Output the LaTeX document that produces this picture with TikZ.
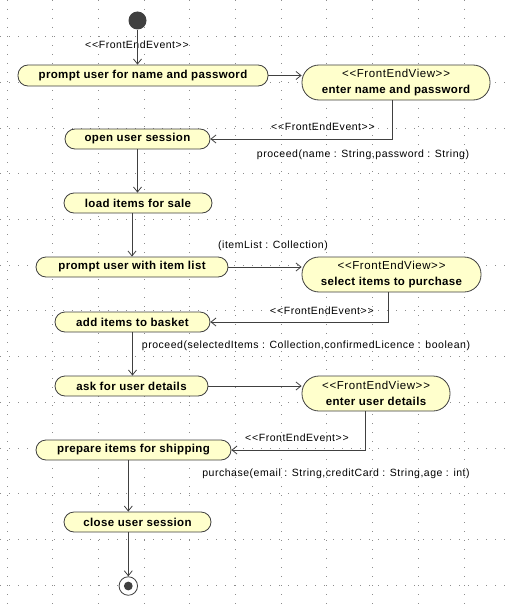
\documentclass[tikz,border=0pt]{standalone}
\usepackage{fontspec}
\setmainfont{Liberation Sans}
\newfontfamily\lblfont[LetterSpace=5]{Liberation Sans}
\newfontfamily\actfont[LetterSpace=3]{Liberation Sans}
\usetikzlibrary{arrows.meta}
\definecolor{fillc}{HTML}{FFFFCC}
\definecolor{linec}{HTML}{404040}
\definecolor{gridc}{HTML}{8C8C8C}
\newcommand\stLt{<\kern0.8pt<}
\newcommand\stGt{>\kern0.8pt>}
\begin{document}
\begin{tikzpicture}[x=1pt,y=-1pt,
  act/.style={draw=linec, fill=fillc, rounded corners=10pt, inner sep=0pt, line width=0.8pt,
    font=\actfont\bfseries\fontsize{11.5}{13}\selectfont, align=center},
  view/.style={act, rounded corners=17pt, font=\lblfont\fontsize{11.5}{16}\selectfont},
  lbl/.style={inner sep=0pt, font=\lblfont\fontsize{10.5}{12}\selectfont},
  arr/.style={draw=linec, line width=0.8pt, -{Straight Barb[length=5pt,width=8pt]}},
  griddots/.style={gridc, line width=1pt, dash pattern=on 1pt off 8pt}
]
\useasboundingbox (0,0) rectangle (509,610);
\fill[white] (0,0) rectangle (509,610);
% grid
\foreach \i in {0,...,10} \draw[griddots] ({7+45.7*\i},0) -- ({7+45.7*\i},610);
\foreach \j in {0,...,12} \draw[griddots] (0,{36.7+45.7*\j}) -- (509,{36.7+45.7*\j});

% nodes
\node[circle, fill=linec, minimum size=18pt, inner sep=0pt] (init) at (137.5,20.5) {};
\node[act, minimum width=250pt, minimum height=21pt] (n1) at (143,75.5) {prompt user for name and password};
\node[view, minimum width=188pt, minimum height=35pt] (n2) at (396,82.5) {\stLt FrontEndView\stGt\\{\actfont\bfseries enter name and password}};
\node[act, minimum width=145pt, minimum height=20pt] (n3) at (137.5,139) {open user session};
\node[act, minimum width=148pt, minimum height=20pt] (n4) at (138,203) {load items for sale};
\node[act, minimum width=192pt, minimum height=20pt] (n5) at (132,267) {prompt user with item list};
\node[view, minimum width=179pt, minimum height=35pt] (n6) at (391.5,274.5) {\stLt FrontEndView\stGt\\{\actfont\bfseries select items to purchase}};
\node[act, minimum width=155pt, minimum height=20pt] (n7) at (132.5,322) {add items to basket};
\node[act, minimum width=153pt, minimum height=20pt] (n8) at (131.5,386) {ask for user details};
\node[view, minimum width=148pt, minimum height=35pt] (n9) at (376,393.5) {\stLt FrontEndView\stGt\\{\actfont\bfseries enter user details}};
\node[act, minimum width=195pt, minimum height=20pt] (n10) at (133.5,450) {prepare items for shipping};
\node[act, minimum width=147pt, minimum height=20pt] (n11) at (137.5,522) {close user session};
\node[circle, draw=linec, fill=white, line width=0.8pt, minimum size=18.5pt, inner sep=0pt] (final) at (128.3,586) {};
\fill[linec] (final.center) circle (4.4pt);

% labels
\node[lbl] (l0) at (137,45) {\stLt FrontEndEvent\stGt};
\node[lbl] (l1) at (323,127) {\stLt FrontEndEvent\stGt};
\node[lbl] (l2) at (363,155) {proceed(name : String,password : String)};
\node[lbl] (l3) at (273,246) {(itemList : Collection)};
\node[lbl] (l4) at (322,311) {\stLt FrontEndEvent\stGt};
\node[lbl] (l5) at (306,346) {proceed(selectedItems : Collection,confirmedLicence : boolean)};
\node[lbl] (l6) at (297,438) {\stLt FrontEndEvent\stGt};
\node[lbl] (l7) at (336,474) {purchase(email : String,creditCard : String,age : int)};

% connectors
\draw[arr] (init) -- (init |- n1.north);
\draw[arr] (n1.east) -- (n1.east -| n2.west);
\draw[arr] ([xshift=-4pt]n2.south) |- (n3.east);
\draw[arr] (n3.south) -- (n3.south |- n4.north);
\draw[arr] (n4.south -| n5.north) -- (n5.north);
\draw[arr] (n5.east) -- (n5.east -| n6.west);
\draw[arr] ([xshift=-3.5pt]n6.south) |- (n7.east);
\draw[arr] (n7.south) -- (n7.south |- n8.north);
\draw[arr] (n8.east) -- (n8.east -| n9.west);
\draw[arr] ([xshift=-11pt]n9.south) |- (n10.east);
\draw[arr] (n10.south -| final) -- (n11.north -| final);
\draw[arr] (n11.south -| final) -- (final.north);
\end{tikzpicture}
\end{document}
